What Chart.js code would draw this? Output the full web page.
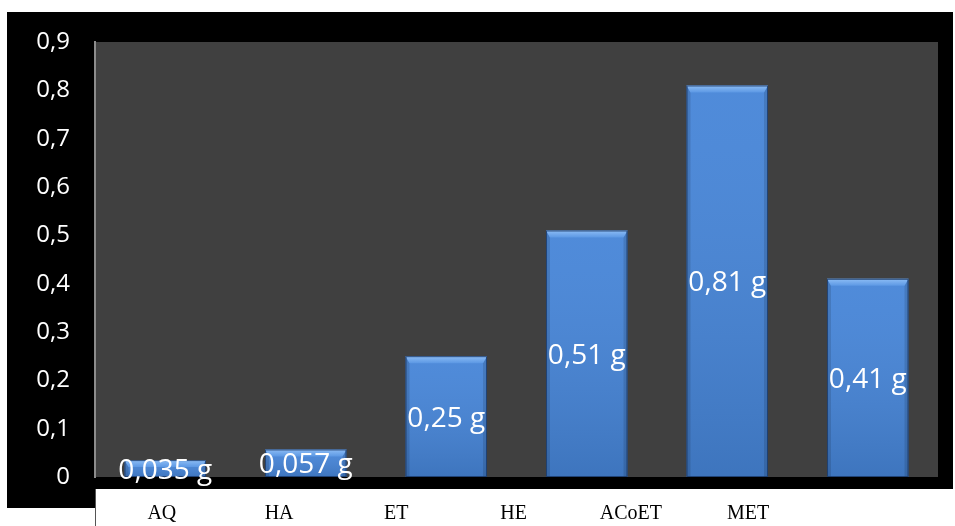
<!DOCTYPE html>
<html>
<head>
<meta charset="utf-8">
<script src="https://cdn.jsdelivr.net/npm/chart.js@4/dist/chart.umd.min.js"></script>
<style>
  html, body { margin: 0; padding: 0; background: #ffffff; }
  #wrap { width: 955px; height: 526px; }
</style>
</head>
<body>
<div id="wrap"><canvas id="massChart" width="955" height="526"></canvas></div>
<script>
// extract masses per solvent (g)
const categories = ['AQ', 'HA', 'ET', 'HE', 'ACoET', 'MET'];
const masses = [0.035, 0.057, 0.25, 0.51, 0.81, 0.41];
const yTicks = [0, 0.1, 0.2, 0.3, 0.4, 0.5, 0.6, 0.7, 0.8, 0.9];
// label row underneath sits on its own positions (index per name)
const labelSlots = [0, 1, 2, 3, 4, 5];

function frLabel(v) { return String(v).replace('.', ','); }

// black frame, grey plot area, white label strip
const frame = {
  id: 'frame',
  beforeDraw(chart) {
    const c = chart.ctx, a = chart.chartArea;
    c.save();
    c.fillStyle = '#ffffff';
    c.fillRect(0, 0, chart.width, chart.height);
    c.fillStyle = '#000000';
    c.fillRect(7, 12, 946, a.bottom);
    c.fillRect(7, a.bottom, 89, 31);
    c.fillStyle = '#404040';
    c.fillRect(a.left, a.top, a.right - a.left, a.bottom - a.top);
    c.strokeStyle = '#555555';
    c.lineWidth = 1;
    c.beginPath();
    c.moveTo(95.5, a.bottom + 12);
    c.lineTo(95.5, chart.height);
    c.stroke();
    c.restore();
  }
};

// bevel shading on each bar and value labels in the middle
const bevel = {
  id: 'bevel',
  afterDatasetsDraw(chart) {
    const c = chart.ctx;
    const meta = chart.getDatasetMeta(0);
    c.save();
    meta.data.forEach((bar, i) => {
      const l = bar.x - bar.width / 2, r = bar.x + bar.width / 2;
      const t = bar.y, b = bar.base;
      const h = b - t, d = Math.min(7, h / 2);
      const g = c.createLinearGradient(0, t, 0, b);
      g.addColorStop(0, 'rgba(255,255,255,0.05)');
      g.addColorStop(1, 'rgba(0,0,0,0.12)');
      c.fillStyle = g;
      c.fillRect(l, t, r - l, h);
      // side bevels
      c.fillStyle = 'rgba(0,0,0,0.12)';
      c.beginPath();
      c.moveTo(l, t); c.lineTo(l + 4, t + d); c.lineTo(l + 4, b); c.lineTo(l, b); c.closePath();
      c.fill();
      c.beginPath();
      c.moveTo(r, t); c.lineTo(r - 4, t + d); c.lineTo(r - 4, b); c.lineTo(r, b); c.closePath();
      c.fill();
      // top bevel
      const tg = c.createLinearGradient(0, t, 0, t + d);
      tg.addColorStop(0, '#8dbdf5');
      tg.addColorStop(1, '#5c98e4');
      c.fillStyle = tg;
      c.beginPath();
      c.moveTo(l, t); c.lineTo(r, t); c.lineTo(r - 4, t + d); c.lineTo(l + 4, t + d); c.closePath();
      c.fill();
      c.strokeStyle = 'rgba(25,55,100,0.8)';
      c.lineWidth = 1;
      c.strokeRect(l + 0.5, t + 0.5, r - l - 1, h - 1);
    });
    c.fillStyle = '#ffffff';
    c.font = '28px "Open Sans"';
    c.textAlign = 'center';
    c.textBaseline = 'middle';
    meta.data.forEach((bar, i) => {
      c.fillText(frLabel(masses[i]) + ' g', bar.x, (bar.y + bar.base) / 2 + 2);
    });
    c.restore();
  }
};

new Chart(document.getElementById('massChart').getContext('2d'), {
  type: 'bar',
  data: {
    labels: categories,
    datasets: [{
      data: masses,
      backgroundColor: '#4685d8',
      borderWidth: 0,
      barPercentage: 0.58,
      categoryPercentage: 1.0
    }]
  },
  options: {
    responsive: false,
    animation: false,
    devicePixelRatio: 1,
    layout: { padding: { top: 42, right: 17, left: 0, bottom: 0 } },
    plugins: { legend: { display: false }, tooltip: { enabled: false } },
    scales: {
      x: { display: false },
      y: {
        min: 0,
        max: 0.9,
        afterFit(s) { s.width = 95; },
        afterBuildTicks(s) { s.ticks = yTicks.map(v => ({ value: v })); },
        grid: { display: false, drawTicks: false },
        border: { display: true, color: '#8c8c8c', width: 2 },
        ticks: {
          color: '#ffffff',
          padding: 25,
          font: { family: 'Open Sans', size: 24 },
          callback: v => frLabel(Math.round(v * 10) / 10)
        }
      },
      x2: {
        type: 'linear',
        position: 'bottom',
        offset: false,
        bounds: 'data',
        min: -0.57,
        max: 6.62,
        afterFit(s) { s.height = 49; },
        afterBuildTicks(s) { s.ticks = labelSlots.map(v => ({ value: v })); },
        grid: { display: false, drawTicks: false, offset: false },
        border: { display: false },
        ticks: {
          color: '#000000',
          padding: 25,
          maxRotation: 0,
          autoSkip: false,
          font: { family: 'Liberation Serif', size: 20 },
          callback: v => categories[v]
        }
      }
    }
  },
  plugins: [frame, bevel]
});
</script>
</body>
</html>
